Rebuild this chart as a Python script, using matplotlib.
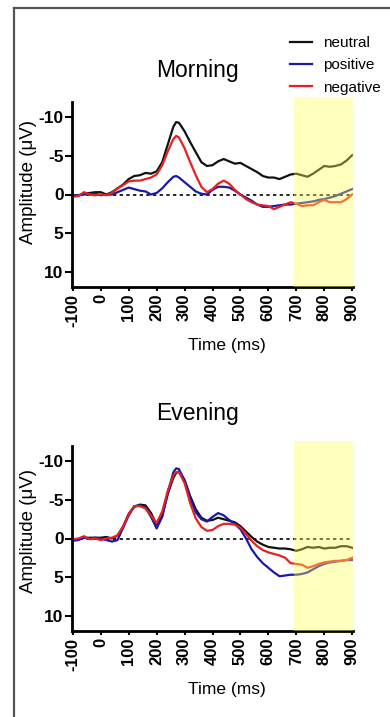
import numpy as np
import matplotlib
matplotlib.use('Agg')
import matplotlib.pyplot as plt
from matplotlib.lines import Line2D

plt.rcParams['font.family'] = ['Liberation Sans', 'DejaVu Sans']

# %% Data (amplitude in uV, time in ms)
time_ms = [-100, -80, -60, -40, -20, 0, 20, 40, 60, 80, 100, 120, 140, 160, 180, 200,
           220, 240, 260, 270, 280, 300, 320, 340, 360, 380, 400, 420, 440, 460, 480, 500,
           520, 540, 560, 580, 600, 620, 640, 660, 680, 700, 720, 740, 760, 780, 800, 820,
           840, 860, 880, 900]

morning_neutral = [0.2, 0.1, -0.1, -0.2, -0.3, -0.3, 0.0, -0.3, -0.8, -1.3, -2.0, -2.4, -2.5, -2.8, -2.7, -3.0,
                   -4.2, -6.5, -8.8, -9.4, -9.3, -8.2, -6.8, -5.5, -4.2, -3.7, -3.8, -4.3, -4.6, -4.3, -4.0, -4.1,
                   -3.7, -3.3, -2.9, -2.4, -2.2, -2.2, -2.0, -2.3, -2.6, -2.7, -2.5, -2.3, -2.7, -3.2, -3.7, -3.6,
                   -3.7, -3.9, -4.4, -5.1]
morning_positive = [0.2, 0.1, 0.0, 0.0, -0.1, 0.1, 0.0, 0.0, -0.3, -0.6, -0.9, -0.7, -0.5, -0.4, 0.0, -0.2,
                    -0.8, -1.6, -2.3, -2.4, -2.2, -1.6, -1.0, -0.4, -0.1, 0.0, -0.6, -1.0, -1.0, -0.9, -0.5, 0.0,
                    0.4, 0.8, 1.3, 1.6, 1.6, 1.5, 1.4, 1.3, 1.3, 1.2, 1.1, 1.0, 0.9, 0.7, 0.6, 0.4,
                    0.2, -0.1, -0.4, -0.7]
morning_negative = [0.3, 0.2, -0.3, 0.0, 0.1, 0.0, 0.1, -0.2, -0.8, -1.2, -1.7, -1.8, -1.8, -2.0, -2.2, -2.6,
                    -3.8, -5.6, -7.2, -7.6, -7.4, -6.0, -4.2, -2.5, -1.0, -0.3, -0.7, -1.4, -1.8, -1.4, -0.6, 0.0,
                    0.6, 1.0, 1.3, 1.4, 1.5, 1.9, 1.6, 1.3, 1.0, 1.2, 1.5, 1.4, 1.4, 1.0, 0.7, 1.0,
                    1.0, 1.0, 0.6, 0.0]

evening_neutral = [0.2, 0.1, -0.1, -0.1, -0.1, -0.1, -0.2, 0.0, -0.4, -1.5, -3.2, -4.1, -4.4, -4.3, -3.3, -1.8,
                   -3.0, -5.8, -7.9, -8.5, -8.7, -7.6, -5.5, -3.8, -2.7, -2.3, -2.4, -2.7, -2.5, -2.3, -2.1, -1.6,
                   -0.9, -0.2, 0.4, 0.8, 1.1, 1.2, 1.3, 1.3, 1.4, 1.6, 1.4, 1.1, 1.2, 1.1, 1.3, 1.2,
                   1.2, 1.0, 1.0, 1.2]
evening_positive = [0.3, 0.2, -0.1, 0.0, -0.1, 0.0, 0.2, 0.4, 0.2, -1.4, -3.0, -4.2, -4.3, -4.0, -2.8, -1.3,
                    -2.8, -6.0, -8.6, -9.1, -9.0, -7.5, -5.2, -3.4, -2.5, -2.2, -2.8, -3.3, -3.0, -2.4, -1.9, -1.2,
                    0.0, 1.4, 2.4, 3.2, 3.8, 4.4, 4.9, 4.8, 4.7, 4.7, 4.6, 4.4, 4.0, 3.6, 3.3, 3.1,
                    3.0, 2.9, 2.8, 2.8]
evening_negative = [0.1, 0.0, -0.3, 0.1, 0.0, 0.2, 0.0, -0.1, -0.4, -1.6, -3.2, -4.2, -4.2, -3.9, -3.0, -2.0,
                    -3.5, -6.2, -8.2, -8.6, -8.6, -7.2, -4.6, -2.6, -1.5, -1.0, -1.1, -1.6, -1.9, -1.9, -1.8, -1.4,
                    -0.6, 0.3, 1.0, 1.5, 1.8, 2.0, 2.2, 2.5, 3.2, 3.3, 3.4, 3.8, 3.6, 3.3, 3.1, 3.0,
                    2.9, 2.9, 2.8, 2.5]

labels = ['neutral', 'positive', 'negative']
colors = ['#111111', '#1a1aaa', '#e82020']
x_ticks = [-100, 0, 100, 200, 300, 400, 500, 600, 700, 800, 900]
y_ticks = [-10, -5, 0, 5, 10]
window = (692, 903)  # highlighted time window

W, H = 390, 717
fig = plt.figure(figsize=(W / 100, H / 100), dpi=100)

# gray frame (open on right and bottom)
fig.add_artist(Line2D([14 / W, 14 / W], [0, 1 - 8 / H], color='#555555', lw=1.6))
fig.add_artist(Line2D([14 / W, 1], [1 - 8 / H, 1 - 8 / H], color='#555555', lw=1.6))


def make_panel(top_px, title, series, ylab_y):
    ax = fig.add_axes([72 / W, (H - top_px - 185) / H, 281 / W, 185 / H])
    for vals, c in zip(series, colors):
        ax.plot(time_ms, vals, color=c, lw=1.6, zorder=2)
    ax.plot([-100, 900], [0, 0], color='black', lw=1.2, ls=(0, (2, 2)), zorder=1)
    # yellow window drawn on top, semi transparent
    ax.axvspan(window[0], window[1], ymin=0, ymax=1.025, color='#ffff55', alpha=0.38,
               lw=0, zorder=3, clip_on=False)
    ax.set_xlim(-103, 903)
    ax.set_ylim(12, -12)
    ax.set_xticks(x_ticks)
    ax.set_yticks(y_ticks)
    ax.set_xticklabels([str(v) for v in x_ticks], rotation=90, fontweight='bold', fontsize=12)
    ax.set_yticklabels([str(v) for v in y_ticks], fontweight='bold', fontsize=12.5)
    ax.tick_params(axis='y', length=5, width=1.5, pad=1)
    ax.tick_params(axis='x', length=3, width=1.5, pad=2)
    for s in ['top', 'right']:
        ax.spines[s].set_visible(False)
    for s in ['left', 'bottom']:
        ax.spines[s].set_linewidth(2)
    ax.set_ylabel('Amplitude (\u03bcV)', fontsize=13.5)
    ax.yaxis.set_label_coords(-0.125, ylab_y)
    ax.set_xlabel('Time (ms)', fontsize=12.5)
    ax.xaxis.set_label_coords(0.55, -0.275)
    fig.text(197 / W, 1 - (top_px - 32) / H, title, fontsize=16.5, ha='center', va='center')
    return ax


make_panel(102, 'Morning', [morning_neutral, morning_positive, morning_negative], 0.57)
make_panel(446, 'Evening', [evening_neutral, evening_positive, evening_negative], 0.54)

handles = [Line2D([], [], color=c, lw=1.6) for c in colors]
fig.legend(handles, labels, loc='upper left', bbox_to_anchor=(290 / W, 1 - 36 / H),
           frameon=False, fontsize=11, handlelength=1.45, handletextpad=0.7,
           labelspacing=0.55, borderpad=0, borderaxespad=0)

fig.savefig('out.png', dpi=100)
